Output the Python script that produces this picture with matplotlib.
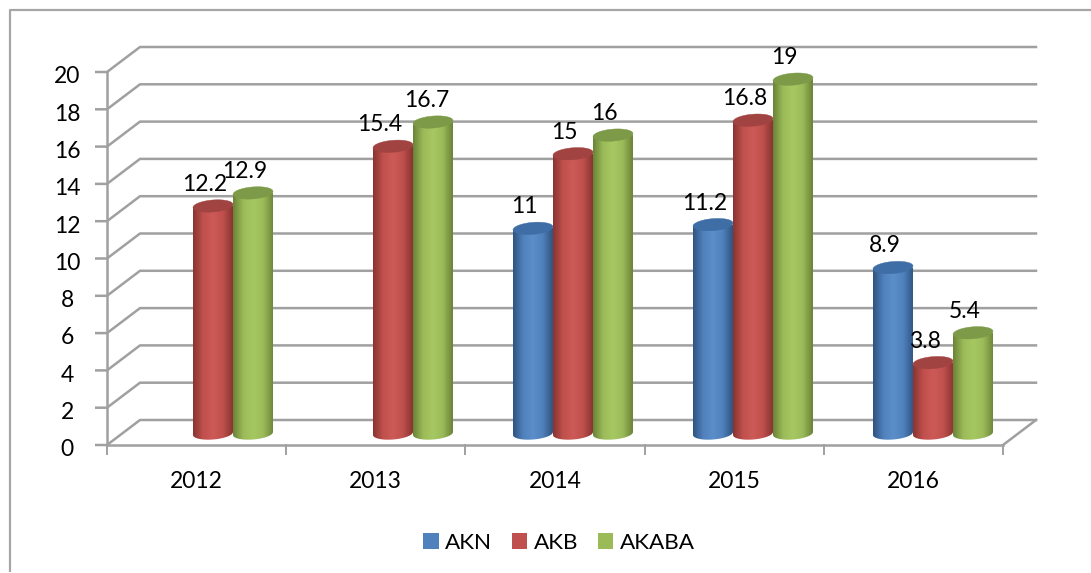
import numpy as np
import matplotlib
matplotlib.use('Agg')
import matplotlib.pyplot as plt
from matplotlib.patches import PathPatch, Polygon, Rectangle
from matplotlib.path import Path
from matplotlib.colors import LinearSegmentedColormap

plt.rcParams['font.family'] = ['Lato', 'DejaVu Sans']

years = ['2012', '2013', '2014', '2015', '2016']
akn = [None, None, 11, 11.2, 8.9]
akb = [12.2, 15.4, 15, 16.8, 3.8]
akaba = [12.9, 16.7, 16, 19, 5.4]
y_ticks = list(range(0, 21, 2))

# name, values, main colour, side shade, highlight, top cap
series = [
    ('AKN', akn, '#4f81bd', '#2f5480', '#5c8fca', '#3f6da5'),
    ('AKB', akb, '#c0504d', '#8a3532', '#cd5a57', '#a04341'),
    ('AKABA', akaba, '#9bbb59', '#6b8438', '#a6c862', '#7c9a47'),
]

W, H = 1091, 573
PX_X = 179.2   # px per category
PX_Y = 18.65   # px per value unit
X0, Y0 = 107, 445

fig = plt.figure(figsize=(W / 100, H / 100), dpi=100)
ax = fig.add_axes([0, 0, 1, 1])
ax.axis('off')
xlim = (-X0 / PX_X, (W - X0) / PX_X)
ylim = ((Y0 - H) / PX_Y, Y0 / PX_Y)

# depth of the 3d box, in data units
DX = 33 / PX_X
DY = 25 / PX_Y
grey = '#a0a0a0'

# outer frame, only left and top are visible
fx = lambda p: xlim[0] + p / PX_X
fy = lambda p: (Y0 - p) / PX_Y
ax.plot([fx(10), fx(10), fx(W + 5)], [fy(572), fy(10), fy(10)],
        color='#a6a6a6', lw=1.6, zorder=1, solid_capstyle='butt')

# walls and gridlines
n = len(years)
for v in y_ticks:
    ax.plot([-0.06, 0, DX, n + DX], [v, v, v + DY, v + DY], color=grey, lw=1.8, zorder=2)
ax.plot([0, 0], [0, 20], color=grey, lw=1.8, zorder=2)
ax.plot([0, n], [0, 0], color=grey, lw=1.8, zorder=2)
ax.plot([n, n + DX], [0, DY], color=grey, lw=1.8, zorder=2)
for i in range(n + 1):
    ax.plot([i, i], [0, -9 / PX_Y], color=grey, lw=1.4, zorder=2)

# 3d cylinders
bar_w = 40 / PX_X
base = 11.5 / PX_Y
ry = 6 / PX_Y
tilt = 1.5 / PX_Y
# a few data labels sit further left or right than the rest (px)
nudge = {15.4: -5, 16.7: 2}
t_all = np.linspace(0, 2 * np.pi, 60)
for i in range(n):
    for s, (name, vals, col, dark, light, cap) in enumerate(series):
        v = vals[i]
        if v is None:
            continue
        cx = (213 - X0) / PX_X + i * 180 / PX_X + (s - 1) * bar_w
        left, right = cx - bar_w / 2, cx + bar_w / 2
        cmap = LinearSegmentedColormap.from_list(name, [dark, col, light, col, dark])
        grad = np.linspace(0, 1, 64).reshape(1, -1)
        im = ax.imshow(grad, cmap=cmap, aspect='auto', zorder=3 + s,
                       extent=(left, right, base - 2 * ry, base + v), interpolation='bilinear')
        t = np.linspace(np.pi, 2 * np.pi, 30)
        xs = cx + bar_w / 2 * np.cos(t)
        ys = base + ry * np.sin(t) + tilt * np.cos(t)
        verts = list(zip(xs, ys)) + [(right, base + v + tilt), (left, base + v - tilt), (xs[0], ys[0])]
        clip = PathPatch(Path(verts), transform=ax.transData, fc='none', ec='none')
        ax.add_patch(clip)
        im.set_clip_path(clip)
        top = np.column_stack([cx + bar_w / 2 * np.cos(t_all),
                               base + v + ry * np.sin(t_all) + tilt * np.cos(t_all)])
        ax.add_patch(Polygon(top, closed=True, fc=cap, ec=cap, lw=0.3, zorder=3 + s))
        dx = (-8.5 + nudge.get(v, 0)) / 1.389
        ax.annotate(f'{v:g}', (cx, base + v), xytext=(dx, 15.5), textcoords='offset points',
                    ha='center', va='center', fontsize=16.5, color='black', zorder=10)

ax.set_xlim(xlim)
ax.set_ylim(ylim)

# tick labels
for v in y_ticks:
    ax.annotate(str(v), (0, v), xytext=(-28.5, -3.5), textcoords='offset points',
                ha='center', va='center', fontsize=16.5, color='black')
for i, y in enumerate(years):
    ax.annotate(y, (i + 0.5, 0), xytext=(0, -26.5), textcoords='offset points',
                ha='center', va='center', fontsize=16.5, color='black')

# legend
handles = [Rectangle((0, 0), 1, 1, fc=s[2]) for s in series]
fig.legend(handles, [s[0] for s in series], loc='center', bbox_to_anchor=(559 / W, 1 - 543 / H),
           ncol=3, frameon=False, fontsize=16.2, handlelength=0.67, handleheight=0.67,
           handletextpad=0.3, columnspacing=0.87)

fig.savefig('out.png', dpi=100)
